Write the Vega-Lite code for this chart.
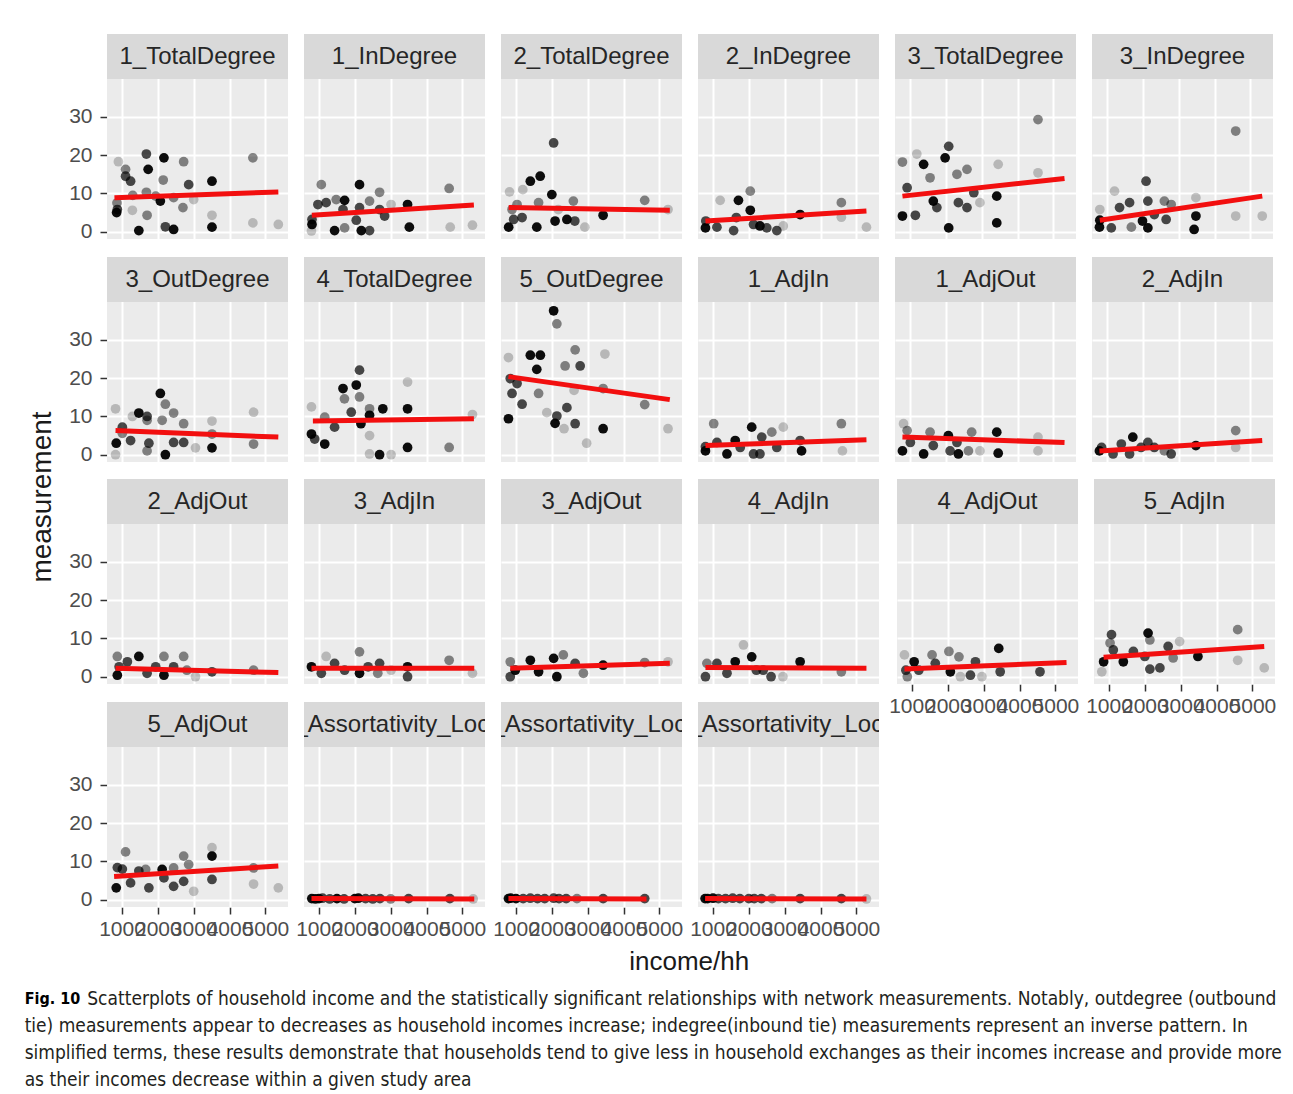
{
"$schema": "https://vega.github.io/schema/vega-lite/v6.json",
"background": "white",
"padding": {"left": 24, "top": 33, "right": 10, "bottom": 4},
"data": {"values": [
{"m":"1_TotalDegree","k":"lab"},{"m":"1_InDegree","k":"lab"},{"m":"2_TotalDegree","k":"lab"},{"m":"2_InDegree","k":"lab"},{"m":"3_TotalDegree","k":"lab"},{"m":"3_InDegree","k":"lab"},{"m":"3_OutDegree","k":"lab"},{"m":"4_TotalDegree","k":"lab"},{"m":"5_OutDegree","k":"lab"},{"m":"1_AdjIn","k":"lab"},{"m":"1_AdjOut","k":"lab"},{"m":"2_AdjIn","k":"lab"},{"m":"2_AdjOut","k":"lab"},{"m":"3_AdjIn","k":"lab"},{"m":"3_AdjOut","k":"lab"},{"m":"4_AdjIn","k":"lab"},{"m":"4_AdjOut","k":"lab"},{"m":"5_AdjIn","k":"lab"},{"m":"5_AdjOut","k":"lab"},{"m":"1_Assortativity_Local","k":"lab"},{"m":"2_Assortativity_Local","k":"lab"},{"m":"3_Assortativity_Local","k":"lab"},

{"m":"1_TotalDegree","k":"f","x":790,"y":8.9},{"m":"1_TotalDegree","k":"f","x":5360,"y":10.4},
{"m":"1_InDegree","k":"f","x":800,"y":4.3},{"m":"1_InDegree","k":"f","x":5320,"y":7.0},
{"m":"2_TotalDegree","k":"f","x":796,"y":6.3},{"m":"2_TotalDegree","k":"f","x":5290,"y":5.6},
{"m":"2_InDegree","k":"f","x":790,"y":2.8},{"m":"2_InDegree","k":"f","x":5280,"y":5.4},
{"m":"3_TotalDegree","k":"f","x":790,"y":9.3},{"m":"3_TotalDegree","k":"f","x":5310,"y":13.9},
{"m":"3_InDegree","k":"f","x":800,"y":3.0},{"m":"3_InDegree","k":"f","x":5330,"y":9.3},
{"m":"3_OutDegree","k":"f","x":820,"y":6.3},{"m":"3_OutDegree","k":"f","x":5360,"y":4.6},
{"m":"4_TotalDegree","k":"f","x":830,"y":8.8},{"m":"4_TotalDegree","k":"f","x":5320,"y":9.4},
{"m":"5_OutDegree","k":"f","x":790,"y":20.4},{"m":"5_OutDegree","k":"f","x":5290,"y":14.4},
{"m":"1_AdjIn","k":"f","x":790,"y":2.4},{"m":"1_AdjIn","k":"f","x":5280,"y":3.9},
{"m":"1_AdjOut","k":"f","x":790,"y":4.6},{"m":"1_AdjOut","k":"f","x":5310,"y":3.2},
{"m":"2_AdjIn","k":"f","x":790,"y":1.0},{"m":"2_AdjIn","k":"f","x":5330,"y":3.7},
{"m":"2_AdjOut","k":"f","x":820,"y":2.2},{"m":"2_AdjOut","k":"f","x":5360,"y":1.1},
{"m":"3_AdjIn","k":"f","x":790,"y":2.2},{"m":"3_AdjIn","k":"f","x":5330,"y":2.2},
{"m":"3_AdjOut","k":"f","x":840,"y":2.2},{"m":"3_AdjOut","k":"f","x":5290,"y":3.5},
{"m":"4_AdjIn","k":"f","x":790,"y":2.4},{"m":"4_AdjIn","k":"f","x":5280,"y":2.2},
{"m":"4_AdjOut","k":"f","x":790,"y":2.0},{"m":"4_AdjOut","k":"f","x":5310,"y":3.7},
{"m":"5_AdjIn","k":"f","x":850,"y":5.1},{"m":"5_AdjIn","k":"f","x":5330,"y":7.9},
{"m":"5_AdjOut","k":"f","x":780,"y":6.1},{"m":"5_AdjOut","k":"f","x":5360,"y":8.8},
{"m":"1_Assortativity_Local","k":"f","x":790,"y":0.3},{"m":"1_Assortativity_Local","k":"f","x":5330,"y":0.2},
{"m":"2_Assortativity_Local","k":"f","x":790,"y":0.3},{"m":"2_Assortativity_Local","k":"f","x":4640,"y":0.2},
{"m":"3_Assortativity_Local","k":"f","x":780,"y":0.3},{"m":"3_Assortativity_Local","k":"f","x":5280,"y":0.2},

{"m":"1_TotalDegree","k":"p","x":900,"y":18.3,"c":1},{"m":"1_TotalDegree","k":"p","x":1100,"y":16.3,"c":2},{"m":"1_TotalDegree","k":"p","x":1100,"y":14.5,"c":3},{"m":"1_TotalDegree","k":"p","x":1240,"y":13.2,"c":3},{"m":"1_TotalDegree","k":"p","x":870,"y":5.8,"c":3},{"m":"1_TotalDegree","k":"p","x":850,"y":5.0,"c":4},{"m":"1_TotalDegree","k":"p","x":1290,"y":5.6,"c":1},{"m":"1_TotalDegree","k":"p","x":1470,"y":0.3,"c":4},{"m":"1_TotalDegree","k":"p","x":1680,"y":20.3,"c":3},{"m":"1_TotalDegree","k":"p","x":1730,"y":16.3,"c":4},{"m":"1_TotalDegree","k":"p","x":1680,"y":10.3,"c":2},{"m":"1_TotalDegree","k":"p","x":1700,"y":4.3,"c":2},{"m":"1_TotalDegree","k":"p","x":2070,"y":8.0,"c":4},{"m":"1_TotalDegree","k":"p","x":2170,"y":19.3,"c":4},{"m":"1_TotalDegree","k":"p","x":2150,"y":13.5,"c":2},{"m":"1_TotalDegree","k":"p","x":2210,"y":1.3,"c":3},{"m":"1_TotalDegree","k":"p","x":2440,"y":0.6,"c":4},{"m":"1_TotalDegree","k":"p","x":2440,"y":8.9,"c":2},{"m":"1_TotalDegree","k":"p","x":2720,"y":18.3,"c":2},{"m":"1_TotalDegree","k":"p","x":2700,"y":6.3,"c":2},{"m":"1_TotalDegree","k":"p","x":2860,"y":12.3,"c":3},{"m":"1_TotalDegree","k":"p","x":3000,"y":8.4,"c":1},{"m":"1_TotalDegree","k":"p","x":3510,"y":13.2,"c":4},{"m":"1_TotalDegree","k":"p","x":3510,"y":1.2,"c":4},{"m":"1_TotalDegree","k":"p","x":3510,"y":4.3,"c":1},{"m":"1_TotalDegree","k":"p","x":4650,"y":19.3,"c":2},{"m":"1_TotalDegree","k":"p","x":4650,"y":2.3,"c":1},{"m":"1_TotalDegree","k":"p","x":5360,"y":1.9,"c":1},{"m":"1_TotalDegree","k":"p","x":1940,"y":9.3,"c":2},{"m":"1_TotalDegree","k":"p","x":860,"y":7.5,"c":2},{"m":"1_TotalDegree","k":"p","x":1300,"y":9.5,"c":2},

{"m":"1_InDegree","k":"p","x":790,"y":0.2,"c":1},{"m":"1_InDegree","k":"p","x":805,"y":1.9,"c":4},{"m":"1_InDegree","k":"p","x":805,"y":3.2,"c":3},{"m":"1_InDegree","k":"p","x":1065,"y":12.3,"c":2},{"m":"1_InDegree","k":"p","x":970,"y":7.1,"c":3},{"m":"1_InDegree","k":"p","x":1200,"y":7.6,"c":3},{"m":"1_InDegree","k":"p","x":1435,"y":0.3,"c":4},{"m":"1_InDegree","k":"p","x":1480,"y":8.4,"c":2},{"m":"1_InDegree","k":"p","x":1715,"y":8.2,"c":4},{"m":"1_InDegree","k":"p","x":1670,"y":5.8,"c":3},{"m":"1_InDegree","k":"p","x":1715,"y":1.0,"c":2},{"m":"1_InDegree","k":"p","x":2040,"y":3.0,"c":3},{"m":"1_InDegree","k":"p","x":2130,"y":12.3,"c":4},{"m":"1_InDegree","k":"p","x":2130,"y":6.3,"c":3},{"m":"1_InDegree","k":"p","x":2180,"y":0.3,"c":4},{"m":"1_InDegree","k":"p","x":2410,"y":0.3,"c":3},{"m":"1_InDegree","k":"p","x":2410,"y":8.0,"c":2},{"m":"1_InDegree","k":"p","x":2690,"y":5.8,"c":3},{"m":"1_InDegree","k":"p","x":2690,"y":10.3,"c":2},{"m":"1_InDegree","k":"p","x":2830,"y":4.1,"c":3},{"m":"1_InDegree","k":"p","x":3010,"y":7.1,"c":1},{"m":"1_InDegree","k":"p","x":3470,"y":7.1,"c":4},{"m":"1_InDegree","k":"p","x":3520,"y":1.2,"c":4},{"m":"1_InDegree","k":"p","x":4630,"y":11.3,"c":2},{"m":"1_InDegree","k":"p","x":4660,"y":1.2,"c":1},{"m":"1_InDegree","k":"p","x":5280,"y":1.7,"c":1},

{"m":"2_TotalDegree","k":"p","x":820,"y":10.4,"c":1},{"m":"2_TotalDegree","k":"p","x":796,"y":1.2,"c":4},{"m":"2_TotalDegree","k":"p","x":935,"y":3.2,"c":3},{"m":"2_TotalDegree","k":"p","x":890,"y":5.8,"c":2},{"m":"2_TotalDegree","k":"p","x":1030,"y":7.1,"c":2},{"m":"2_TotalDegree","k":"p","x":1170,"y":3.7,"c":3},{"m":"2_TotalDegree","k":"p","x":1190,"y":11.0,"c":1},{"m":"2_TotalDegree","k":"p","x":1400,"y":13.2,"c":4},{"m":"2_TotalDegree","k":"p","x":1675,"y":14.5,"c":4},{"m":"2_TotalDegree","k":"p","x":1580,"y":1.2,"c":4},{"m":"2_TotalDegree","k":"p","x":1630,"y":7.6,"c":2},{"m":"2_TotalDegree","k":"p","x":2050,"y":23.2,"c":3},{"m":"2_TotalDegree","k":"p","x":2000,"y":9.7,"c":4},{"m":"2_TotalDegree","k":"p","x":2090,"y":2.8,"c":4},{"m":"2_TotalDegree","k":"p","x":2180,"y":5.8,"c":1},{"m":"2_TotalDegree","k":"p","x":2420,"y":3.2,"c":4},{"m":"2_TotalDegree","k":"p","x":2600,"y":8.0,"c":2},{"m":"2_TotalDegree","k":"p","x":2640,"y":2.8,"c":3},{"m":"2_TotalDegree","k":"p","x":2920,"y":1.2,"c":1},{"m":"2_TotalDegree","k":"p","x":3430,"y":4.3,"c":4},{"m":"2_TotalDegree","k":"p","x":4590,"y":8.2,"c":2},{"m":"2_TotalDegree","k":"p","x":5240,"y":5.8,"c":1},

{"m":"2_InDegree","k":"p","x":790,"y":1.0,"c":4},{"m":"2_InDegree","k":"p","x":800,"y":2.8,"c":3},{"m":"2_InDegree","k":"p","x":1110,"y":1.2,"c":3},{"m":"2_InDegree","k":"p","x":1200,"y":8.2,"c":1},{"m":"2_InDegree","k":"p","x":1575,"y":0.3,"c":3},{"m":"2_InDegree","k":"p","x":1710,"y":8.2,"c":4},{"m":"2_InDegree","k":"p","x":1650,"y":3.7,"c":3},{"m":"2_InDegree","k":"p","x":2040,"y":10.6,"c":2},{"m":"2_InDegree","k":"p","x":2040,"y":5.6,"c":4},{"m":"2_InDegree","k":"p","x":2130,"y":1.9,"c":3},{"m":"2_InDegree","k":"p","x":2310,"y":1.5,"c":4},{"m":"2_InDegree","k":"p","x":2500,"y":1.0,"c":3},{"m":"2_InDegree","k":"p","x":2780,"y":0.3,"c":3},{"m":"2_InDegree","k":"p","x":2960,"y":1.5,"c":1},{"m":"2_InDegree","k":"p","x":3430,"y":4.5,"c":4},{"m":"2_InDegree","k":"p","x":4580,"y":7.6,"c":2},{"m":"2_InDegree","k":"p","x":4580,"y":3.8,"c":1},{"m":"2_InDegree","k":"p","x":5280,"y":1.2,"c":1},

{"m":"3_TotalDegree","k":"p","x":790,"y":18.2,"c":2},{"m":"3_TotalDegree","k":"p","x":920,"y":11.5,"c":3},{"m":"3_TotalDegree","k":"p","x":790,"y":4.1,"c":4},{"m":"3_TotalDegree","k":"p","x":1150,"y":4.3,"c":3},{"m":"3_TotalDegree","k":"p","x":1190,"y":20.3,"c":1},{"m":"3_TotalDegree","k":"p","x":1380,"y":17.6,"c":4},{"m":"3_TotalDegree","k":"p","x":1560,"y":14.1,"c":2},{"m":"3_TotalDegree","k":"p","x":1650,"y":8.0,"c":4},{"m":"3_TotalDegree","k":"p","x":1750,"y":6.3,"c":3},{"m":"3_TotalDegree","k":"p","x":1980,"y":19.3,"c":4},{"m":"3_TotalDegree","k":"p","x":2080,"y":22.3,"c":3},{"m":"3_TotalDegree","k":"p","x":2080,"y":1.0,"c":4},{"m":"3_TotalDegree","k":"p","x":2310,"y":15.0,"c":2},{"m":"3_TotalDegree","k":"p","x":2590,"y":16.3,"c":2},{"m":"3_TotalDegree","k":"p","x":2350,"y":7.6,"c":3},{"m":"3_TotalDegree","k":"p","x":2590,"y":6.3,"c":3},{"m":"3_TotalDegree","k":"p","x":2780,"y":10.2,"c":3},{"m":"3_TotalDegree","k":"p","x":2950,"y":7.6,"c":1},{"m":"3_TotalDegree","k":"p","x":3420,"y":9.3,"c":4},{"m":"3_TotalDegree","k":"p","x":3420,"y":2.3,"c":4},{"m":"3_TotalDegree","k":"p","x":3460,"y":17.6,"c":1},{"m":"3_TotalDegree","k":"p","x":4570,"y":29.3,"c":2},{"m":"3_TotalDegree","k":"p","x":4570,"y":15.4,"c":1},

{"m":"3_InDegree","k":"p","x":800,"y":5.8,"c":1},{"m":"3_InDegree","k":"p","x":800,"y":3.0,"c":4},{"m":"3_InDegree","k":"p","x":790,"y":1.2,"c":4},{"m":"3_InDegree","k":"p","x":1210,"y":10.6,"c":1},{"m":"3_InDegree","k":"p","x":1120,"y":1.0,"c":3},{"m":"3_InDegree","k":"p","x":1350,"y":6.3,"c":3},{"m":"3_InDegree","k":"p","x":1680,"y":1.2,"c":2},{"m":"3_InDegree","k":"p","x":1630,"y":7.6,"c":3},{"m":"3_InDegree","k":"p","x":1990,"y":2.8,"c":4},{"m":"3_InDegree","k":"p","x":2090,"y":13.2,"c":3},{"m":"3_InDegree","k":"p","x":2140,"y":1.0,"c":4},{"m":"3_InDegree","k":"p","x":2140,"y":8.0,"c":3},{"m":"3_InDegree","k":"p","x":2320,"y":4.5,"c":3},{"m":"3_InDegree","k":"p","x":2600,"y":8.0,"c":2},{"m":"3_InDegree","k":"p","x":2650,"y":3.2,"c":3},{"m":"3_InDegree","k":"p","x":2790,"y":7.1,"c":2},{"m":"3_InDegree","k":"p","x":3480,"y":8.9,"c":1},{"m":"3_InDegree","k":"p","x":3480,"y":4.1,"c":4},{"m":"3_InDegree","k":"p","x":3430,"y":0.6,"c":4},{"m":"3_InDegree","k":"p","x":4590,"y":26.3,"c":2},{"m":"3_InDegree","k":"p","x":4590,"y":4.1,"c":1},{"m":"3_InDegree","k":"p","x":5330,"y":4.1,"c":1},

{"m":"3_OutDegree","k":"p","x":820,"y":12.0,"c":1},{"m":"3_OutDegree","k":"p","x":820,"y":0.0,"c":1},{"m":"3_OutDegree","k":"p","x":840,"y":3.0,"c":4},{"m":"3_OutDegree","k":"p","x":1010,"y":7.2,"c":3},{"m":"3_OutDegree","k":"p","x":1010,"y":5.6,"c":2},{"m":"3_OutDegree","k":"p","x":1240,"y":3.7,"c":3},{"m":"3_OutDegree","k":"p","x":1290,"y":10.0,"c":1},{"m":"3_OutDegree","k":"p","x":1470,"y":10.9,"c":4},{"m":"3_OutDegree","k":"p","x":1700,"y":10.0,"c":3},{"m":"3_OutDegree","k":"p","x":1700,"y":9.0,"c":2},{"m":"3_OutDegree","k":"p","x":1750,"y":3.0,"c":3},{"m":"3_OutDegree","k":"p","x":1700,"y":1.0,"c":2},{"m":"3_OutDegree","k":"p","x":2070,"y":16.0,"c":4},{"m":"3_OutDegree","k":"p","x":2210,"y":13.2,"c":2},{"m":"3_OutDegree","k":"p","x":2120,"y":9.0,"c":2},{"m":"3_OutDegree","k":"p","x":2210,"y":0.0,"c":4},{"m":"3_OutDegree","k":"p","x":2440,"y":10.9,"c":2},{"m":"3_OutDegree","k":"p","x":2440,"y":3.2,"c":3},{"m":"3_OutDegree","k":"p","x":2720,"y":8.1,"c":2},{"m":"3_OutDegree","k":"p","x":2720,"y":3.2,"c":3},{"m":"3_OutDegree","k":"p","x":3050,"y":1.8,"c":1},{"m":"3_OutDegree","k":"p","x":3510,"y":8.8,"c":1},{"m":"3_OutDegree","k":"p","x":3510,"y":5.4,"c":2},{"m":"3_OutDegree","k":"p","x":3510,"y":1.8,"c":4},{"m":"3_OutDegree","k":"p","x":4670,"y":11.1,"c":1},{"m":"3_OutDegree","k":"p","x":4670,"y":2.8,"c":2},

{"m":"4_TotalDegree","k":"p","x":790,"y":12.5,"c":1},{"m":"4_TotalDegree","k":"p","x":790,"y":5.4,"c":4},{"m":"4_TotalDegree","k":"p","x":880,"y":4.1,"c":3},{"m":"4_TotalDegree","k":"p","x":1160,"y":2.8,"c":4},{"m":"4_TotalDegree","k":"p","x":1160,"y":9.8,"c":2},{"m":"4_TotalDegree","k":"p","x":1435,"y":7.2,"c":3},{"m":"4_TotalDegree","k":"p","x":1670,"y":17.3,"c":4},{"m":"4_TotalDegree","k":"p","x":1710,"y":14.6,"c":2},{"m":"4_TotalDegree","k":"p","x":1900,"y":11.1,"c":3},{"m":"4_TotalDegree","k":"p","x":2040,"y":18.2,"c":4},{"m":"4_TotalDegree","k":"p","x":2130,"y":15.1,"c":2},{"m":"4_TotalDegree","k":"p","x":2130,"y":22.1,"c":3},{"m":"4_TotalDegree","k":"p","x":2170,"y":8.1,"c":4},{"m":"4_TotalDegree","k":"p","x":2410,"y":12.0,"c":2},{"m":"4_TotalDegree","k":"p","x":2410,"y":10.3,"c":4},{"m":"4_TotalDegree","k":"p","x":2410,"y":5.0,"c":1},{"m":"4_TotalDegree","k":"p","x":2410,"y":0.2,"c":1},{"m":"4_TotalDegree","k":"p","x":2690,"y":0.0,"c":4},{"m":"4_TotalDegree","k":"p","x":2780,"y":12.0,"c":4},{"m":"4_TotalDegree","k":"p","x":3010,"y":0.0,"c":1},{"m":"4_TotalDegree","k":"p","x":3470,"y":12.0,"c":4},{"m":"4_TotalDegree","k":"p","x":3470,"y":1.9,"c":4},{"m":"4_TotalDegree","k":"p","x":3470,"y":19.0,"c":1},{"m":"4_TotalDegree","k":"p","x":4630,"y":1.9,"c":2},{"m":"4_TotalDegree","k":"p","x":5280,"y":10.5,"c":1},

{"m":"5_OutDegree","k":"p","x":790,"y":25.4,"c":1},{"m":"5_OutDegree","k":"p","x":790,"y":9.4,"c":4},{"m":"5_OutDegree","k":"p","x":840,"y":19.9,"c":3},{"m":"5_OutDegree","k":"p","x":890,"y":16.0,"c":3},{"m":"5_OutDegree","k":"p","x":1030,"y":18.6,"c":3},{"m":"5_OutDegree","k":"p","x":1170,"y":13.2,"c":3},{"m":"5_OutDegree","k":"p","x":1400,"y":26.0,"c":4},{"m":"5_OutDegree","k":"p","x":1680,"y":26.0,"c":4},{"m":"5_OutDegree","k":"p","x":1580,"y":22.3,"c":4},{"m":"5_OutDegree","k":"p","x":1630,"y":16.0,"c":2},{"m":"5_OutDegree","k":"p","x":1860,"y":11.0,"c":1},{"m":"5_OutDegree","k":"p","x":2050,"y":37.6,"c":4},{"m":"5_OutDegree","k":"p","x":2140,"y":34.2,"c":2},{"m":"5_OutDegree","k":"p","x":2140,"y":10.1,"c":3},{"m":"5_OutDegree","k":"p","x":2090,"y":8.2,"c":4},{"m":"5_OutDegree","k":"p","x":2340,"y":6.8,"c":1},{"m":"5_OutDegree","k":"p","x":2420,"y":12.3,"c":3},{"m":"5_OutDegree","k":"p","x":2370,"y":23.2,"c":2},{"m":"5_OutDegree","k":"p","x":2650,"y":27.4,"c":2},{"m":"5_OutDegree","k":"p","x":2790,"y":23.2,"c":3},{"m":"5_OutDegree","k":"p","x":2650,"y":8.1,"c":3},{"m":"5_OutDegree","k":"p","x":2620,"y":16.8,"c":1},{"m":"5_OutDegree","k":"p","x":2970,"y":3.0,"c":1},{"m":"5_OutDegree","k":"p","x":3430,"y":17.3,"c":2},{"m":"5_OutDegree","k":"p","x":3430,"y":6.8,"c":4},{"m":"5_OutDegree","k":"p","x":3480,"y":26.3,"c":1},{"m":"5_OutDegree","k":"p","x":4590,"y":13.1,"c":2},{"m":"5_OutDegree","k":"p","x":5240,"y":6.8,"c":1},

{"m":"1_AdjIn","k":"p","x":790,"y":2.1,"c":3},{"m":"1_AdjIn","k":"p","x":790,"y":1.0,"c":4},{"m":"1_AdjIn","k":"p","x":1020,"y":8.1,"c":2},{"m":"1_AdjIn","k":"p","x":1110,"y":3.2,"c":3},{"m":"1_AdjIn","k":"p","x":1390,"y":0.2,"c":4},{"m":"1_AdjIn","k":"p","x":1620,"y":3.7,"c":4},{"m":"1_AdjIn","k":"p","x":1760,"y":1.9,"c":3},{"m":"1_AdjIn","k":"p","x":2080,"y":7.2,"c":4},{"m":"1_AdjIn","k":"p","x":2130,"y":0.2,"c":3},{"m":"1_AdjIn","k":"p","x":2310,"y":0.2,"c":3},{"m":"1_AdjIn","k":"p","x":2360,"y":4.6,"c":3},{"m":"1_AdjIn","k":"p","x":2640,"y":5.9,"c":2},{"m":"1_AdjIn","k":"p","x":2780,"y":1.9,"c":3},{"m":"1_AdjIn","k":"p","x":2960,"y":7.2,"c":1},{"m":"1_AdjIn","k":"p","x":3470,"y":1.0,"c":4},{"m":"1_AdjIn","k":"p","x":3430,"y":3.7,"c":3},{"m":"1_AdjIn","k":"p","x":4580,"y":8.1,"c":2},{"m":"1_AdjIn","k":"p","x":4610,"y":1.0,"c":1},

{"m":"1_AdjOut","k":"p","x":820,"y":8.1,"c":1},{"m":"1_AdjOut","k":"p","x":920,"y":6.3,"c":2},{"m":"1_AdjOut","k":"p","x":790,"y":1.0,"c":4},{"m":"1_AdjOut","k":"p","x":1010,"y":3.2,"c":3},{"m":"1_AdjOut","k":"p","x":1380,"y":0.2,"c":4},{"m":"1_AdjOut","k":"p","x":1560,"y":5.9,"c":2},{"m":"1_AdjOut","k":"p","x":1650,"y":2.4,"c":3},{"m":"1_AdjOut","k":"p","x":2070,"y":5.0,"c":4},{"m":"1_AdjOut","k":"p","x":2120,"y":1.0,"c":3},{"m":"1_AdjOut","k":"p","x":2350,"y":0.2,"c":4},{"m":"1_AdjOut","k":"p","x":2310,"y":3.2,"c":3},{"m":"1_AdjOut","k":"p","x":2720,"y":5.9,"c":2},{"m":"1_AdjOut","k":"p","x":2630,"y":1.0,"c":2},{"m":"1_AdjOut","k":"p","x":2950,"y":1.0,"c":1},{"m":"1_AdjOut","k":"p","x":3420,"y":5.9,"c":4},{"m":"1_AdjOut","k":"p","x":3460,"y":0.4,"c":4},{"m":"1_AdjOut","k":"p","x":4570,"y":4.6,"c":1},{"m":"1_AdjOut","k":"p","x":4570,"y":1.0,"c":1},

{"m":"2_AdjIn","k":"p","x":790,"y":1.0,"c":4},{"m":"2_AdjIn","k":"p","x":850,"y":1.9,"c":3},{"m":"2_AdjIn","k":"p","x":1170,"y":0.2,"c":3},{"m":"2_AdjIn","k":"p","x":1400,"y":2.8,"c":3},{"m":"2_AdjIn","k":"p","x":1630,"y":0.2,"c":3},{"m":"2_AdjIn","k":"p","x":1720,"y":4.6,"c":4},{"m":"2_AdjIn","k":"p","x":1950,"y":1.9,"c":3},{"m":"2_AdjIn","k":"p","x":2140,"y":3.2,"c":3},{"m":"2_AdjIn","k":"p","x":2320,"y":1.9,"c":3},{"m":"2_AdjIn","k":"p","x":2600,"y":1.0,"c":2},{"m":"2_AdjIn","k":"p","x":2790,"y":0.2,"c":3},{"m":"2_AdjIn","k":"p","x":3480,"y":2.4,"c":4},{"m":"2_AdjIn","k":"p","x":4590,"y":6.3,"c":2},{"m":"2_AdjIn","k":"p","x":4590,"y":1.9,"c":1},

{"m":"2_AdjOut","k":"p","x":870,"y":5.3,"c":2},{"m":"2_AdjOut","k":"p","x":870,"y":0.4,"c":4},{"m":"2_AdjOut","k":"p","x":920,"y":2.6,"c":3},{"m":"2_AdjOut","k":"p","x":1150,"y":3.9,"c":3},{"m":"2_AdjOut","k":"p","x":1470,"y":5.3,"c":4},{"m":"2_AdjOut","k":"p","x":1700,"y":0.9,"c":3},{"m":"2_AdjOut","k":"p","x":1940,"y":2.6,"c":3},{"m":"2_AdjOut","k":"p","x":2170,"y":5.3,"c":2},{"m":"2_AdjOut","k":"p","x":2170,"y":0.4,"c":4},{"m":"2_AdjOut","k":"p","x":2440,"y":2.6,"c":3},{"m":"2_AdjOut","k":"p","x":2720,"y":5.3,"c":2},{"m":"2_AdjOut","k":"p","x":2810,"y":1.7,"c":2},{"m":"2_AdjOut","k":"p","x":3050,"y":0.0,"c":1},{"m":"2_AdjOut","k":"p","x":3510,"y":1.3,"c":3},{"m":"2_AdjOut","k":"p","x":4670,"y":1.7,"c":2},

{"m":"3_AdjIn","k":"p","x":790,"y":2.6,"c":4},{"m":"3_AdjIn","k":"p","x":1065,"y":0.9,"c":3},{"m":"3_AdjIn","k":"p","x":1200,"y":5.3,"c":1},{"m":"3_AdjIn","k":"p","x":1435,"y":3.5,"c":3},{"m":"3_AdjIn","k":"p","x":1715,"y":1.7,"c":3},{"m":"3_AdjIn","k":"p","x":2130,"y":6.5,"c":2},{"m":"3_AdjIn","k":"p","x":2130,"y":0.9,"c":4},{"m":"3_AdjIn","k":"p","x":2370,"y":2.6,"c":3},{"m":"3_AdjIn","k":"p","x":2690,"y":3.5,"c":3},{"m":"3_AdjIn","k":"p","x":2640,"y":0.9,"c":2},{"m":"3_AdjIn","k":"p","x":3010,"y":1.7,"c":1},{"m":"3_AdjIn","k":"p","x":3470,"y":2.6,"c":4},{"m":"3_AdjIn","k":"p","x":3470,"y":0.0,"c":3},{"m":"3_AdjIn","k":"p","x":4630,"y":4.3,"c":2},{"m":"3_AdjIn","k":"p","x":5280,"y":0.9,"c":1},

{"m":"3_AdjOut","k":"p","x":840,"y":3.9,"c":2},{"m":"3_AdjOut","k":"p","x":840,"y":0.0,"c":3},{"m":"3_AdjOut","k":"p","x":980,"y":1.7,"c":4},{"m":"3_AdjOut","k":"p","x":1400,"y":4.3,"c":4},{"m":"3_AdjOut","k":"p","x":1630,"y":1.3,"c":4},{"m":"3_AdjOut","k":"p","x":2050,"y":4.8,"c":4},{"m":"3_AdjOut","k":"p","x":2140,"y":0.0,"c":4},{"m":"3_AdjOut","k":"p","x":2320,"y":5.7,"c":2},{"m":"3_AdjOut","k":"p","x":2650,"y":3.5,"c":3},{"m":"3_AdjOut","k":"p","x":2880,"y":0.9,"c":2},{"m":"3_AdjOut","k":"p","x":3430,"y":3.0,"c":4},{"m":"3_AdjOut","k":"p","x":4590,"y":3.7,"c":2},{"m":"3_AdjOut","k":"p","x":5240,"y":3.9,"c":1},

{"m":"4_AdjIn","k":"p","x":790,"y":0.0,"c":3},{"m":"4_AdjIn","k":"p","x":830,"y":3.5,"c":2},{"m":"4_AdjIn","k":"p","x":1110,"y":3.5,"c":3},{"m":"4_AdjIn","k":"p","x":1390,"y":0.9,"c":3},{"m":"4_AdjIn","k":"p","x":1620,"y":3.9,"c":4},{"m":"4_AdjIn","k":"p","x":1850,"y":8.3,"c":1},{"m":"4_AdjIn","k":"p","x":2080,"y":5.2,"c":4},{"m":"4_AdjIn","k":"p","x":2210,"y":1.7,"c":3},{"m":"4_AdjIn","k":"p","x":2400,"y":1.7,"c":3},{"m":"4_AdjIn","k":"p","x":2620,"y":0.0,"c":3},{"m":"4_AdjIn","k":"p","x":2950,"y":0.0,"c":1},{"m":"4_AdjIn","k":"p","x":3430,"y":3.9,"c":4},{"m":"4_AdjIn","k":"p","x":4580,"y":1.3,"c":2},

{"m":"4_AdjOut","k":"p","x":790,"y":5.7,"c":1},{"m":"4_AdjOut","k":"p","x":830,"y":1.7,"c":3},{"m":"4_AdjOut","k":"p","x":870,"y":0.0,"c":2},{"m":"4_AdjOut","k":"p","x":1060,"y":3.9,"c":4},{"m":"4_AdjOut","k":"p","x":1190,"y":1.7,"c":3},{"m":"4_AdjOut","k":"p","x":1560,"y":5.7,"c":2},{"m":"4_AdjOut","k":"p","x":1650,"y":3.5,"c":3},{"m":"4_AdjOut","k":"p","x":2030,"y":6.6,"c":2},{"m":"4_AdjOut","k":"p","x":2070,"y":1.3,"c":4},{"m":"4_AdjOut","k":"p","x":2310,"y":5.2,"c":2},{"m":"4_AdjOut","k":"p","x":2350,"y":0.0,"c":1},{"m":"4_AdjOut","k":"p","x":2630,"y":0.4,"c":3},{"m":"4_AdjOut","k":"p","x":2770,"y":3.9,"c":3},{"m":"4_AdjOut","k":"p","x":2950,"y":0.0,"c":1},{"m":"4_AdjOut","k":"p","x":3420,"y":7.4,"c":4},{"m":"4_AdjOut","k":"p","x":3460,"y":1.3,"c":3},{"m":"4_AdjOut","k":"p","x":4570,"y":1.3,"c":3},

{"m":"5_AdjIn","k":"p","x":800,"y":1.3,"c":1},{"m":"5_AdjIn","k":"p","x":850,"y":3.9,"c":4},{"m":"5_AdjIn","k":"p","x":1070,"y":11.0,"c":3},{"m":"5_AdjIn","k":"p","x":1030,"y":8.8,"c":2},{"m":"5_AdjIn","k":"p","x":1120,"y":7.0,"c":3},{"m":"5_AdjIn","k":"p","x":1400,"y":3.9,"c":4},{"m":"5_AdjIn","k":"p","x":1680,"y":6.6,"c":3},{"m":"5_AdjIn","k":"p","x":2000,"y":5.3,"c":3},{"m":"5_AdjIn","k":"p","x":2090,"y":11.4,"c":4},{"m":"5_AdjIn","k":"p","x":2140,"y":9.6,"c":2},{"m":"5_AdjIn","k":"p","x":2140,"y":2.0,"c":3},{"m":"5_AdjIn","k":"p","x":2420,"y":2.3,"c":3},{"m":"5_AdjIn","k":"p","x":2650,"y":7.9,"c":3},{"m":"5_AdjIn","k":"p","x":2790,"y":4.9,"c":2},{"m":"5_AdjIn","k":"p","x":2970,"y":9.2,"c":1},{"m":"5_AdjIn","k":"p","x":3480,"y":5.3,"c":4},{"m":"5_AdjIn","k":"p","x":4590,"y":12.3,"c":2},{"m":"5_AdjIn","k":"p","x":4590,"y":4.3,"c":1},{"m":"5_AdjIn","k":"p","x":5330,"y":2.3,"c":1},

{"m":"5_AdjOut","k":"p","x":840,"y":3.1,"c":4},{"m":"5_AdjOut","k":"p","x":870,"y":8.4,"c":3},{"m":"5_AdjOut","k":"p","x":1010,"y":8.0,"c":3},{"m":"5_AdjOut","k":"p","x":1100,"y":12.5,"c":2},{"m":"5_AdjOut","k":"p","x":1240,"y":4.4,"c":3},{"m":"5_AdjOut","k":"p","x":1470,"y":7.5,"c":3},{"m":"5_AdjOut","k":"p","x":1660,"y":7.9,"c":2},{"m":"5_AdjOut","k":"p","x":1750,"y":3.1,"c":3},{"m":"5_AdjOut","k":"p","x":2120,"y":7.9,"c":4},{"m":"5_AdjOut","k":"p","x":2170,"y":5.7,"c":3},{"m":"5_AdjOut","k":"p","x":2440,"y":3.5,"c":3},{"m":"5_AdjOut","k":"p","x":2440,"y":8.3,"c":2},{"m":"5_AdjOut","k":"p","x":2720,"y":11.4,"c":2},{"m":"5_AdjOut","k":"p","x":2720,"y":4.8,"c":3},{"m":"5_AdjOut","k":"p","x":2860,"y":9.2,"c":2},{"m":"5_AdjOut","k":"p","x":3000,"y":2.2,"c":1},{"m":"5_AdjOut","k":"p","x":3510,"y":11.4,"c":4},{"m":"5_AdjOut","k":"p","x":3510,"y":5.3,"c":3},{"m":"5_AdjOut","k":"p","x":3510,"y":13.6,"c":1},{"m":"5_AdjOut","k":"p","x":4670,"y":8.3,"c":2},{"m":"5_AdjOut","k":"p","x":4670,"y":4.1,"c":1},{"m":"5_AdjOut","k":"p","x":5360,"y":3.1,"c":1},

{"m":"1_Assortativity_Local","k":"p","x":800,"y":0.3,"c":4},{"m":"1_Assortativity_Local","k":"p","x":900,"y":0.2,"c":4},{"m":"1_Assortativity_Local","k":"p","x":1000,"y":0.3,"c":4},{"m":"1_Assortativity_Local","k":"p","x":1100,"y":0.4,"c":3},{"m":"1_Assortativity_Local","k":"p","x":1300,"y":0.2,"c":3},{"m":"1_Assortativity_Local","k":"p","x":1500,"y":0.3,"c":4},{"m":"1_Assortativity_Local","k":"p","x":1700,"y":0.2,"c":3},{"m":"1_Assortativity_Local","k":"p","x":2000,"y":0.3,"c":4},{"m":"1_Assortativity_Local","k":"p","x":2100,"y":0.4,"c":4},{"m":"1_Assortativity_Local","k":"p","x":2300,"y":0.3,"c":3},{"m":"1_Assortativity_Local","k":"p","x":2500,"y":0.2,"c":3},{"m":"1_Assortativity_Local","k":"p","x":2700,"y":0.3,"c":3},{"m":"1_Assortativity_Local","k":"p","x":3000,"y":0.2,"c":2},{"m":"1_Assortativity_Local","k":"p","x":3500,"y":0.3,"c":3},{"m":"1_Assortativity_Local","k":"p","x":4650,"y":0.3,"c":3},{"m":"1_Assortativity_Local","k":"p","x":5300,"y":0.2,"c":1},

{"m":"2_Assortativity_Local","k":"p","x":790,"y":0.3,"c":4},{"m":"2_Assortativity_Local","k":"p","x":850,"y":0.4,"c":4},{"m":"2_Assortativity_Local","k":"p","x":1000,"y":0.3,"c":4},{"m":"2_Assortativity_Local","k":"p","x":1200,"y":0.3,"c":3},{"m":"2_Assortativity_Local","k":"p","x":1400,"y":0.4,"c":3},{"m":"2_Assortativity_Local","k":"p","x":1600,"y":0.3,"c":3},{"m":"2_Assortativity_Local","k":"p","x":1800,"y":0.3,"c":3},{"m":"2_Assortativity_Local","k":"p","x":2050,"y":0.4,"c":3},{"m":"2_Assortativity_Local","k":"p","x":2200,"y":0.3,"c":3},{"m":"2_Assortativity_Local","k":"p","x":2400,"y":0.3,"c":3},{"m":"2_Assortativity_Local","k":"p","x":2700,"y":0.3,"c":2},{"m":"2_Assortativity_Local","k":"p","x":3430,"y":0.3,"c":3},{"m":"2_Assortativity_Local","k":"p","x":4590,"y":0.3,"c":3},

{"m":"3_Assortativity_Local","k":"p","x":780,"y":0.3,"c":4},{"m":"3_Assortativity_Local","k":"p","x":850,"y":0.3,"c":4},{"m":"3_Assortativity_Local","k":"p","x":1000,"y":0.4,"c":4},{"m":"3_Assortativity_Local","k":"p","x":1150,"y":0.3,"c":3},{"m":"3_Assortativity_Local","k":"p","x":1350,"y":0.3,"c":3},{"m":"3_Assortativity_Local","k":"p","x":1550,"y":0.4,"c":3},{"m":"3_Assortativity_Local","k":"p","x":1750,"y":0.3,"c":3},{"m":"3_Assortativity_Local","k":"p","x":2000,"y":0.3,"c":3},{"m":"3_Assortativity_Local","k":"p","x":2150,"y":0.3,"c":3},{"m":"3_Assortativity_Local","k":"p","x":2350,"y":0.3,"c":3},{"m":"3_Assortativity_Local","k":"p","x":2650,"y":0.3,"c":2},{"m":"3_Assortativity_Local","k":"p","x":3430,"y":0.3,"c":3},{"m":"3_Assortativity_Local","k":"p","x":4580,"y":0.3,"c":3},{"m":"3_Assortativity_Local","k":"p","x":5280,"y":0.2,"c":1}
]},
"title": {
  "text": "Fig. 10",
  "subtitle": ["\u2800\u2800\u2800\u2800\u2800Scatterplots of household income and the statistically significant relationships with network measurements. Notably, outdegree (outbound", "tie) measurements appear to decreases as household incomes increase; indegree(inbound tie) measurements represent an inverse pattern. In", "simplified terms, these results demonstrate that households tend to give less in household exchanges as their incomes increase and provide more", "as their incomes decrease within a given study area"],
  "orient": "bottom", "anchor": "start", "frame": "bounds",
  "font": "DejaVu Sans Condensed", "fontSize": 16, "fontWeight": "bold", "color": "#000000",
  "subtitleFont": "DejaVu Sans Condensed", "subtitleFontSize": 19, "subtitleColor": "#231F20", "subtitleLineHeight": 27,
  "subtitlePadding": -17, "offset": 16, "dx": -4
},
"vconcat": [
 {"title": {"text": "measurement", "orient": "left", "anchor": "middle", "frame": "bounds", "font": "Liberation Sans", "fontSize": 28, "fontWeight": "normal", "color": "#1A1A1A", "offset": 12, "dx": 7},
  "hconcat": [
   {"title": {"text": "income/hh", "orient": "bottom", "anchor": "middle", "frame": "bounds", "font": "Liberation Sans", "fontSize": 26, "fontWeight": "normal", "color": "#1A1A1A", "offset": 10, "dx": 17},
    "spacing": 13,
    "vconcat": [
     {"transform": [{"filter": {"field": "m", "oneOf": ["1_TotalDegree","1_InDegree","2_TotalDegree","2_InDegree","3_TotalDegree","3_InDegree","3_OutDegree","4_TotalDegree","5_OutDegree","1_AdjIn","1_AdjOut","2_AdjIn"]}}],
      "facet": {"field": "m", "type": "nominal", "header": {"title": null, "labels": false, "labelExpr": "''", "labelFontSize": 1, "labelPadding": 0},
                "sort": ["1_TotalDegree","1_InDegree","2_TotalDegree","2_InDegree","3_TotalDegree","3_InDegree","3_OutDegree","4_TotalDegree","5_OutDegree","1_AdjIn","1_AdjOut","2_AdjIn"]},
      "columns": 6, "spacing": {"row": 17, "column": 16},
      "spec": {"width": 181, "height": 205, "layer": [
        {"transform": [{"filter": "datum.k == 'lab'"}], "mark": {"type": "rect", "fill": "#D9D9D9", "clip": true},
         "encoding": {"x": {"datum": 582, "type": "quantitative", "title": null}, "x2": {"datum": 5630}, "y": {"datum": 39.9, "type": "quantitative", "title": null}, "y2": {"datum": 51.66}}},
        {"transform": [{"filter": "datum.k == 'p'"}], "mark": {"type": "circle", "size": 95, "color": "#000000", "clip": true},
         "encoding": {
           "x": {"field": "x", "type": "quantitative", "title": null, "scale": {"domain": [582, 5630], "nice": false, "zero": false},
                 "axis": {"values": [1000,1500,2000,2500,3000,3500,4000,4500,5000,5500], "labels": false, "ticks": false, "grid": true,
                          "gridWidth": {"condition": {"test": "datum.value % 1000 === 0", "value": 2}, "value": 1}}},
           "y": {"field": "y", "type": "quantitative", "title": null, "scale": {"domain": [-1.9, 51.66], "nice": false, "zero": false},
                 "axis": {"values": [0,5,10,15,20,25,30,35], "labelExpr": "datum.value % 10 === 0 ? datum.label : ''", "grid": true,
                          "gridWidth": {"condition": {"test": "datum.value % 10 === 0", "value": 2}, "value": 1},
                          "tickOpacity": {"condition": {"test": "datum.value % 10 !== 0", "value": 0}, "value": 1}}},
           "opacity": {"field": "c", "type": "quantitative", "scale": {"domain": [1, 4], "range": [0.22, 0.95]}, "legend": null}}},
        {"transform": [{"filter": "datum.k == 'f'"}], "mark": {"type": "line", "color": "#F20F0F", "strokeWidth": 5, "clip": true},
         "encoding": {"x": {"field": "x", "type": "quantitative", "title": null}, "y": {"field": "y", "type": "quantitative", "title": null}}},
        {"transform": [{"filter": "datum.k == 'lab'"}], "mark": {"type": "text", "fontSize": 24, "font": "Liberation Sans", "color": "#262626", "clip": true, "align": "center", "baseline": "middle"},
         "encoding": {"text": {"field": "m"}, "x": {"datum": 3106, "type": "quantitative", "title": null}, "y": {"datum": 45.7, "type": "quantitative", "title": null}}}
      ]}},
     {"spacing": 8,
      "hconcat": [
       {"transform": [{"filter": {"field": "m", "oneOf": ["2_AdjOut","3_AdjIn","3_AdjOut","4_AdjIn","5_AdjOut","1_Assortativity_Local","2_Assortativity_Local","3_Assortativity_Local"]}}],
        "facet": {"field": "m", "type": "nominal", "header": {"title": null, "labels": false, "labelExpr": "''", "labelFontSize": 1, "labelPadding": 0},
                  "sort": ["2_AdjOut","3_AdjIn","3_AdjOut","4_AdjIn","5_AdjOut","1_Assortativity_Local","2_Assortativity_Local","3_Assortativity_Local"]},
        "columns": 4, "spacing": {"row": 17, "column": 16},
        "spec": {"width": 181, "height": 205, "layer": [
          {"transform": [{"filter": "datum.k == 'lab'"}], "mark": {"type": "rect", "fill": "#D9D9D9", "clip": true},
           "encoding": {"x": {"datum": 582, "type": "quantitative", "title": null}, "x2": {"datum": 5630}, "y": {"datum": 39.9, "type": "quantitative", "title": null}, "y2": {"datum": 51.66}}},
          {"transform": [{"filter": "datum.k == 'p'"}], "mark": {"type": "circle", "size": 95, "color": "#000000", "clip": true},
           "encoding": {
             "x": {"field": "x", "type": "quantitative", "title": null, "scale": {"domain": [582, 5630], "nice": false, "zero": false},
                   "axis": {"values": [1000,1500,2000,2500,3000,3500,4000,4500,5000,5500], "labelExpr": "datum.value % 1000 === 0 ? datum.label : ''", "format": "d", "grid": true,
                            "tickOpacity": {"condition": {"test": "datum.value % 1000 !== 0", "value": 0}, "value": 1},
                            "gridWidth": {"condition": {"test": "datum.value % 1000 === 0", "value": 2}, "value": 1}}},
             "y": {"field": "y", "type": "quantitative", "title": null, "scale": {"domain": [-1.9, 51.66], "nice": false, "zero": false},
                   "axis": {"values": [0,5,10,15,20,25,30,35], "labelExpr": "datum.value % 10 === 0 ? datum.label : ''", "grid": true,
                            "gridWidth": {"condition": {"test": "datum.value % 10 === 0", "value": 2}, "value": 1},
                            "tickOpacity": {"condition": {"test": "datum.value % 10 !== 0", "value": 0}, "value": 1}}},
             "opacity": {"field": "c", "type": "quantitative", "scale": {"domain": [1, 4], "range": [0.22, 0.95]}, "legend": null}}},
          {"transform": [{"filter": "datum.k == 'f'"}], "mark": {"type": "line", "color": "#F20F0F", "strokeWidth": 5, "clip": true},
           "encoding": {"x": {"field": "x", "type": "quantitative", "title": null}, "y": {"field": "y", "type": "quantitative", "title": null}}},
          {"transform": [{"filter": "datum.k == 'lab'"}], "mark": {"type": "text", "fontSize": 24, "font": "Liberation Sans", "color": "#262626", "clip": true, "align": "center", "baseline": "middle"},
           "encoding": {"text": {"field": "m"}, "x": {"datum": 3106, "type": "quantitative", "title": null}, "y": {"datum": 45.7, "type": "quantitative", "title": null}}}
        ]}},
       {"transform": [{"filter": {"field": "m", "oneOf": ["4_AdjOut","5_AdjIn"]}}],
        "facet": {"field": "m", "type": "nominal", "header": {"title": null, "labels": false, "labelExpr": "''", "labelFontSize": 1, "labelPadding": 0},
                  "sort": ["4_AdjOut","5_AdjIn"]},
        "columns": 2, "spacing": {"row": 17, "column": 16},
        "spec": {"width": 181, "height": 205, "layer": [
          {"transform": [{"filter": "datum.k == 'lab'"}], "mark": {"type": "rect", "fill": "#D9D9D9", "clip": true},
           "encoding": {"x": {"datum": 582, "type": "quantitative", "title": null}, "x2": {"datum": 5630}, "y": {"datum": 39.9, "type": "quantitative", "title": null}, "y2": {"datum": 51.66}}},
          {"transform": [{"filter": "datum.k == 'p'"}], "mark": {"type": "circle", "size": 95, "color": "#000000", "clip": true},
           "encoding": {
             "x": {"field": "x", "type": "quantitative", "title": null, "scale": {"domain": [582, 5630], "nice": false, "zero": false},
                   "axis": {"values": [1000,1500,2000,2500,3000,3500,4000,4500,5000,5500], "labelExpr": "datum.value % 1000 === 0 ? datum.label : ''", "format": "d", "grid": true,
                            "tickOpacity": {"condition": {"test": "datum.value % 1000 !== 0", "value": 0}, "value": 1},
                            "gridWidth": {"condition": {"test": "datum.value % 1000 === 0", "value": 2}, "value": 1}}},
             "y": {"field": "y", "type": "quantitative", "title": null, "scale": {"domain": [-1.9, 51.66], "nice": false, "zero": false},
                   "axis": {"values": [0,5,10,15,20,25,30,35], "labels": false, "ticks": false, "grid": true,
                            "gridWidth": {"condition": {"test": "datum.value % 10 === 0", "value": 2}, "value": 1}}},
             "opacity": {"field": "c", "type": "quantitative", "scale": {"domain": [1, 4], "range": [0.22, 0.95]}, "legend": null}}},
          {"transform": [{"filter": "datum.k == 'f'"}], "mark": {"type": "line", "color": "#F20F0F", "strokeWidth": 5, "clip": true},
           "encoding": {"x": {"field": "x", "type": "quantitative", "title": null}, "y": {"field": "y", "type": "quantitative", "title": null}}},
          {"transform": [{"filter": "datum.k == 'lab'"}], "mark": {"type": "text", "fontSize": 24, "font": "Liberation Sans", "color": "#262626", "clip": true, "align": "center", "baseline": "middle"},
           "encoding": {"text": {"field": "m"}, "x": {"datum": 3106, "type": "quantitative", "title": null}, "y": {"datum": 45.7, "type": "quantitative", "title": null}}}
        ]}}
      ]}
    ]}
  ]}
],
"config": {
  "view": {"fill": "#EBEBEB", "stroke": null},
  "header": {"labels": false, "title": null, "labelPadding": 0},
  "axis": {"domain": false, "labelFont": "Liberation Sans", "labelColor": "#4D4D4D", "tickColor": "#333333",
           "gridColor": "#FFFFFF", "gridOpacity": 1, "labelFontSize": 21, "tickSize": 7, "tickWidth": 1.5,
           "labelOverlap": false, "labelFlush": false, "labelBound": false},
  "axisX": {"labelPadding": 4},
  "axisY": {"labelPadding": 8}
}
}
